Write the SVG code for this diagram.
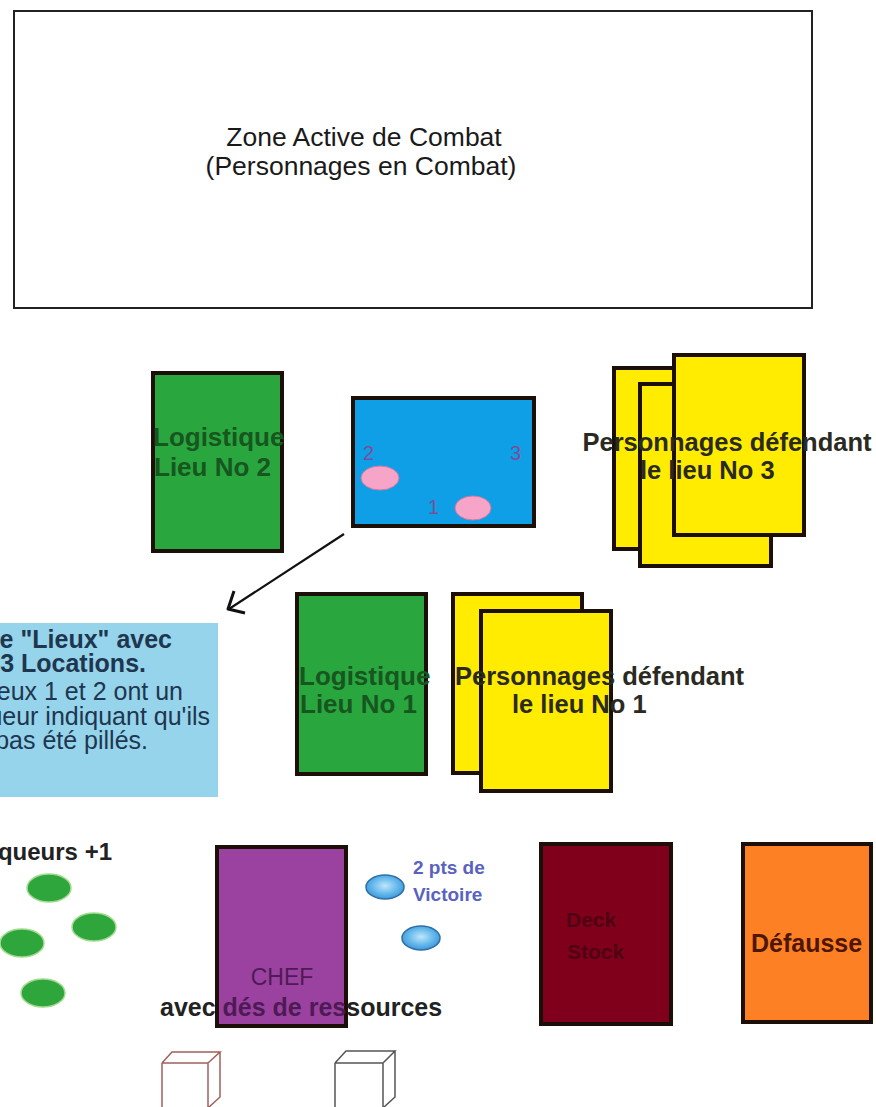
<svg xmlns="http://www.w3.org/2000/svg" width="876" height="1107" viewBox="0 0 876 1107">
<style>
text{font-family:"Liberation Sans",Arial,sans-serif}
.card{stroke:#1c0f08;stroke-width:4}
.green{fill:#2aa63f}
.yellow{fill:#ffec00}
.gtxt{font-size:26px;font-weight:bold;fill:#17561f}
.ytxt{font-size:25.5px;font-weight:bold;fill:#2a2a22}
.btxt{font-size:25px;fill:#1f3650}
.num{font-size:20px;fill:#7a4f98}
.pink{fill:#f6a5c8;stroke:#d07aa0;stroke-width:1}
.gdot{fill:#2ea63c;stroke:#9fdc8f;stroke-width:1.5}
.vp{fill:url(#vpg);stroke:#2f6fa8;stroke-width:1.5}
</style>
<defs>
<radialGradient id="vpg" cx="50%" cy="45%" r="60%">
<stop offset="0" stop-color="#bfe6fb"/>
<stop offset="0.6" stop-color="#5eb5ea"/>
<stop offset="1" stop-color="#3b8fd0"/>
</radialGradient>
</defs>
<rect width="876" height="1107" fill="#ffffff"/>

<g id="zone-combat">
<rect x="14" y="11" width="798" height="297" fill="#ffffff" stroke="#222" stroke-width="2"/>
<text x="364" y="146" text-anchor="middle" font-size="26.5" fill="#1a1a1a">Zone Active de Combat</text>
<text x="361" y="175" text-anchor="middle" font-size="26.5" fill="#1a1a1a">(Personnages en Combat)</text>
</g>

<g id="lieu2-logistique">
<rect class="card green" x="153" y="373" width="129" height="178"/>
<text class="gtxt" x="153" y="446">Logistique</text>
<text class="gtxt" x="154" y="476">Lieu No 2</text>
</g>

<g id="carte-lieux">
<rect class="card" x="353" y="398" width="181" height="128" fill="#0f9fe6"/>
<text class="num" x="363" y="460">2</text>
<text class="num" x="510" y="460">3</text>
<text class="num" x="428" y="514">1</text>
<ellipse class="pink" cx="380" cy="478" rx="19" ry="12"/>
<ellipse class="pink" cx="473" cy="508" rx="18" ry="12"/>
</g>

<g id="lieu3-personnages">
<rect class="card yellow" x="614" y="368" width="131" height="181"/>
<rect class="card yellow" x="640" y="384" width="131" height="182"/>
<rect class="card yellow" x="674" y="355" width="130" height="180"/>
<text class="ytxt" x="727" y="451" text-anchor="middle">Personnages défendant</text>
<text class="ytxt" x="640" y="479">le lieu No 3</text>
</g>

<g id="connectors">
<path d="M344,534 L229,609" fill="none" stroke="#111" stroke-width="2.2"/>
<path d="M234,591 L228,609 L245,613" fill="none" stroke="#111" stroke-width="3" stroke-linejoin="round"/>
</g>

<g id="info-lieux">
<rect x="0" y="623" width="218" height="174" fill="#95d4ea"/>
<text class="btxt" x="172" y="648" text-anchor="end" font-weight="bold">e "Lieux" avec</text>
<text class="btxt" x="146" y="672" text-anchor="end" font-weight="bold">3 Locations.</text>
<text class="btxt" x="183" y="700" text-anchor="end">eux 1 et 2 ont un</text>
<text class="btxt" x="210" y="725" text-anchor="end">ueur indiquant qu'ils</text>
<text class="btxt" x="148" y="749" text-anchor="end">pas été pillés.</text>
</g>

<g id="lieu1-logistique">
<rect class="card green" x="297" y="594" width="129" height="180"/>
<text class="gtxt" x="299" y="685">Logistique</text>
<text class="gtxt" x="300" y="713">Lieu No 1</text>
</g>

<g id="lieu1-personnages">
<rect class="card yellow" x="453" y="594" width="129" height="179"/>
<rect class="card yellow" x="481" y="611" width="130" height="180"/>
<text class="ytxt" x="455" y="685">Personnages défendant</text>
<text class="ytxt" x="512" y="713">le lieu No 1</text>
</g>

<g id="marqueurs">
<text x="112" y="860" text-anchor="end" font-size="24" font-weight="bold" fill="#222">queurs +1</text>
<ellipse class="gdot" cx="49" cy="888" rx="22" ry="14"/>
<ellipse class="gdot" cx="94" cy="927" rx="22" ry="14"/>
<ellipse class="gdot" cx="22" cy="943" rx="22" ry="14"/>
<ellipse class="gdot" cx="43" cy="993" rx="22" ry="14"/>
</g>

<g id="chef">
<rect class="card" x="217" y="847" width="129" height="179" fill="#9b42a0"/>
<text x="282" y="985" text-anchor="middle" font-size="23" fill="#4e1a55">CHEF</text>
<text x="160" y="1016" font-size="25" font-weight="bold" fill="#222">avec <tspan fill="#4e1a55">dés de res</tspan>sources</text>
</g>

<g id="victoire">
<ellipse class="vp" cx="385" cy="887" rx="19" ry="12"/>
<ellipse class="vp" cx="421" cy="938" rx="19" ry="12"/>
<text x="413" y="874" font-size="19" font-weight="bold" fill="#5a62c0">2 pts de</text>
<text x="413" y="901" font-size="19" font-weight="bold" fill="#5a62c0">Victoire</text>
</g>

<g id="deck">
<rect class="card" x="541" y="844" width="130" height="180" fill="#80001b"/>
<text x="566" y="927" font-size="21" font-weight="bold" fill="#4f0012">Deck</text>
<text x="567" y="959" font-size="21" font-weight="bold" fill="#4f0012">Stock</text>
</g>

<g id="defausse">
<rect class="card" x="743" y="844" width="128" height="178" fill="#fd8024"/>
<text x="751" y="952" font-size="25" font-weight="bold" fill="#4e1600">Défausse</text>
</g>

<g id="de-rouge">
<path d="M162,1063 L208,1063 L208,1110 M162,1063 L162,1110 M162,1063 L172,1052 L220,1052 L208,1063 M220,1052 L220,1097 L208,1108" fill="none" stroke="#a0605c" stroke-width="1.5"/>
</g>
<g id="de-blanc">
<path d="M335,1063 L383,1063 L383,1110 M335,1063 L335,1110 M335,1063 L346,1051 L395,1051 L383,1063 M395,1051 L395,1097 L383,1108" fill="none" stroke="#555" stroke-width="1.5"/>
</g>
</svg>
